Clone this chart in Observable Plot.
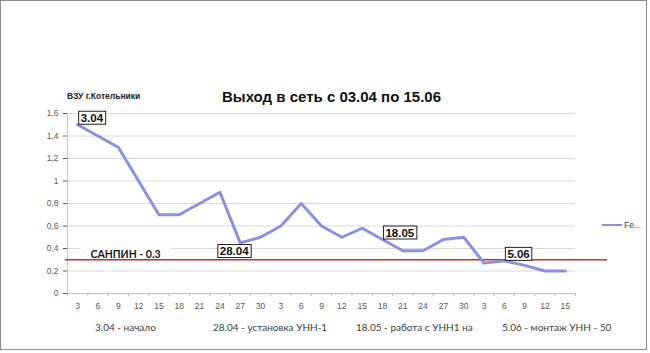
<!DOCTYPE html>
<html><head><meta charset="utf-8">
<script src="https://cdn.jsdelivr.net/npm/d3@7"></script>
<script src="https://cdn.jsdelivr.net/npm/@observablehq/plot@0.6"></script>
<style>
body{margin:0;background:#fff;}
#wrap{position:relative;width:650px;height:353px;overflow:hidden;font-family:"Liberation Sans",Arial,sans-serif;background:#fff;}
.ov{position:absolute;white-space:nowrap;line-height:1;}
#border{position:absolute;left:0;top:0;width:647px;height:350px;border:1px solid #8c8c8c;box-sizing:border-box;pointer-events:none;}
</style></head><body><div id="wrap"></div>
<script>
const dayLabels = ["3","6","9","12","15","18","21","24","27","30","3","6","9","12","15","18","21","24","27","30","3","6","9","12","15"];
const feValues = [1.5,1.4,1.3,1.0,0.7,0.7,0.8,0.9,0.45,0.5,0.6,0.8,0.6,0.5,0.58,0.48,0.38,0.38,0.48,0.5,0.27,0.29,0.25,0.2,0.2];
const yTicks = [0,0.2,0.4,0.6,0.8,1,1.2,1.4,1.6];
const sanpinLimit = 0.3;
const sanpinLabel = "САНПИН - 0.3";
const annotationIndex = [0,8,15,21];
const annotationLabels = ["3.04","28.04","18.05","5.06"];
const annotationBelow = [false,true,false,false];
const notes = ["3.04 - начало","28.04 - установка УНН-1","18.05 - работа с УНН1 на","5.06 - монтаж УНН - 50"];
const titleText = "Выход в сеть с 03.04 по 15.06";
const subtitleText = "ВЗУ г.Котельники";
const seriesName = "Fe...";

const ann = annotationIndex.map((i,k)=>({i, v: feValues[i], label: annotationLabels[k], below: annotationBelow[k]}));

const chart = Plot.plot({
  width: 650, height: 353,
  marginLeft: 67, marginRight: 75, marginTop: 113, marginBottom: 60,
  style: {fontFamily: "'Liberation Sans', Arial, sans-serif", fontSize: "8.5px", color: "#595959", background: "transparent"},
  x: {type: "linear", domain: [-0.5, 24.5], ticks: d3.range(dayLabels.length), tickFormat: i => dayLabels[i], tickSize: 0, tickPadding: 9, label: null},
  y: {domain: [0, 1.6], ticks: yTicks, tickFormat: d => String(d).replace(".", ","), tickSize: 4, tickPadding: 5, label: null},
  marks: [
    Plot.ruleY(yTicks.filter(d => d > 0), {stroke: "#d9d9d9", strokeWidth: 1}),
    Plot.ruleX([-0.5], {stroke: "#c8c8c8"}),
    Plot.ruleY([0], {stroke: "#bfbfbf"}),
    Plot.ruleX(d3.range(-0.5, dayLabels.length, 1), {y1: 0, y2: -0.028, stroke: "#bfbfbf"}),
    Plot.text([sanpinLimit], {y: d => d, text: () => sanpinLabel, frameAnchor: "left", dx: 23, dy: -2, textAnchor: "start", lineAnchor: "bottom", fontWeight: "bold", fontSize: 10.5, fontFamily: "Lato, 'Open Sans', sans-serif", fill: "#1a1a1a"}),
    Plot.ruleY([sanpinLimit], {stroke: "#c62d2d", strokeWidth: 1.6, insetLeft: -2, insetRight: -32}),
    Plot.line(feValues, {x: (d, i) => i, y: d => d, stroke: "#8d8fe3", strokeWidth: 3}),
    Plot.text(ann.filter(d => !d.below), {x: "i", y: "v", text: "label", textAnchor: "start", lineAnchor: "bottom", dx: 3, dy: -3, fontWeight: "bold", fontSize: 11.5, fill: "#111"}),
    Plot.text(ann.filter(d => d.below), {x: "i", y: "v", text: "label", textAnchor: "middle", lineAnchor: "top", dx: -6, dy: 4, fontWeight: "bold", fontSize: 11.5, fill: "#111"})
  ]
});

const wrap = document.getElementById("wrap");
chart.style.position = "absolute"; chart.style.left = "0"; chart.style.top = "0";
wrap.appendChild(chart);

// boxes behind annotation labels
const NS = "http://www.w3.org/2000/svg";
function boxBehind(t, padX, padY, stroke) {
  const b = t.getBBox();
  const r = document.createElementNS(NS, "rect");
  const tr = t.getAttribute("transform");
  if (tr) r.setAttribute("transform", tr);
  r.setAttribute("x", b.x - padX); r.setAttribute("y", b.y - padY);
  r.setAttribute("width", b.width + 2 * padX); r.setAttribute("height", b.height + 2 * padY);
  r.setAttribute("fill", "#fff");
  r.setAttribute("stroke", stroke || "none");
  t.parentNode.insertBefore(r, t);
}
chart.querySelectorAll("text").forEach(t => {
  const s = t.textContent.trim();
  if (annotationLabels.includes(s)) boxBehind(t, 2, 0.5, "#222");
  else if (s === sanpinLabel) boxBehind(t, 10, 1, null);
});

function ov(text, css) {
  const d = document.createElement("div");
  d.className = "ov"; d.textContent = text;
  Object.assign(d.style, css);
  wrap.appendChild(d);
  return d;
}
ov(titleText, {left: "222px", top: "89px", fontSize: "15px", fontWeight: "bold", color: "#111"});
ov(subtitleText, {left: "67px", top: "92px", fontSize: "8.5px", fontWeight: "bold", color: "#222"});
const noteLeft = [95, 213, 356, 502];
notes.forEach((n, k) => ov(n, {left: noteLeft[k] + "px", top: "322px", fontSize: "10px", fontFamily: "Lato, sans-serif", color: "#404040"}));
// legend
const lg = document.createElement("div");
lg.className = "ov";
Object.assign(lg.style, {left: "602px", top: "221px", fontSize: "8.5px", color: "#404040", display: "flex", alignItems: "center"});
const sw = document.createElement("span");
Object.assign(sw.style, {display: "inline-block", width: "20px", height: "0", borderTop: "2px solid #8d8fe3", marginRight: "2px"});
lg.appendChild(sw); lg.appendChild(document.createTextNode(seriesName));
wrap.appendChild(lg);
const bd = document.createElement("div"); bd.id = "border"; wrap.appendChild(bd);
</script>
</body></html>
